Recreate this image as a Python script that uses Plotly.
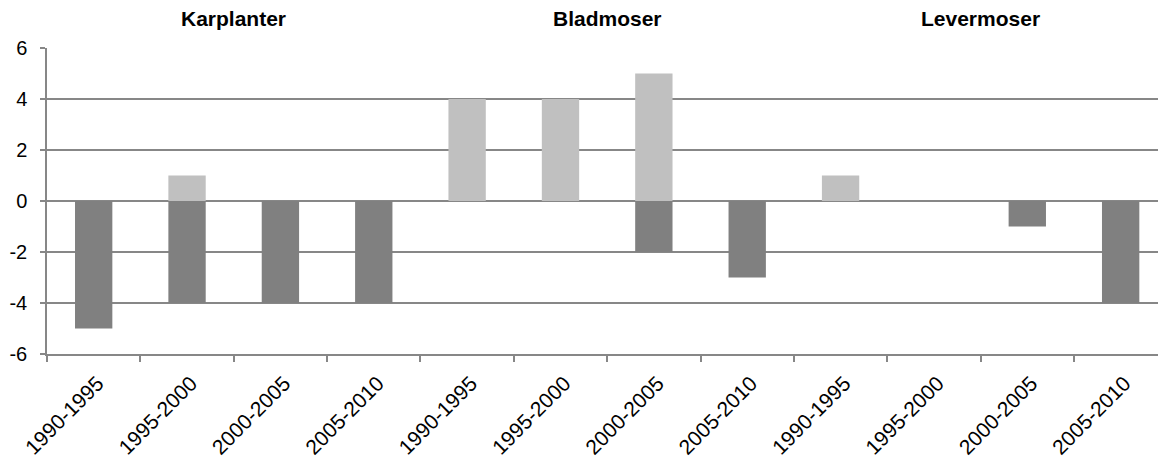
import plotly.graph_objects as go

# Periods repeated for each plant group
periods = ['1990-1995', '1995-2000', '2000-2005', '2005-2010']
groups = ['Karplanter', 'Bladmoser', 'Levermoser']

# gains (light) and losses (dark) per period, group by group
gains = [0, 1, 0, 0, 4, 4, 5, 0, 1, 0, 0, 0]
losses = [-5, -4, -4, -4, 0, 0, -2, -3, 0, 0, -1, -4]

y_ticks = [-6, -4, -2, 0, 2, 4, 6]

n = len(gains)
x_idx = list(range(n))
tick_text = periods * len(groups)

fig = go.Figure()
fig.add_trace(go.Bar(x=x_idx, y=gains, name='Gain', marker_color='#C0C0C0',
                     marker_line_width=0, width=0.4))
fig.add_trace(go.Bar(x=x_idx, y=losses, name='Loss', marker_color='#808080',
                     marker_line_width=0, width=0.4))

# group titles over each block of 4 bars
for i, g in enumerate(groups):
    fig.add_annotation(x=i * 4 + 1.5, xref='x', y=1.095, yref='paper',
                       text='<b>%s</b>' % g, showarrow=False, yanchor='middle',
                       font=dict(size=21, color='black'))

fig.update_layout(
    barmode='relative',
    width=1158, height=465,
    margin=dict(l=47, r=0, t=48, b=111, autoexpand=False),
    plot_bgcolor='white', paper_bgcolor='white',
    showlegend=False,
    font=dict(family='Liberation Sans, Arial, sans-serif', size=20, color='black'),
)
fig.update_xaxes(
    type='category', tickmode='array', tickvals=x_idx, ticktext=tick_text,
    tickangle=-45, range=[-0.5, 11.4], showgrid=False, showline=True,
    linecolor='#878787', linewidth=1.5, ticks='outside', tickson='boundaries',
    ticklen=6, tickcolor='#878787', tickwidth=1.5, tickfont=dict(size=21),
    ticklabelshift=4, ticklabelstandoff=7, automargin=False,
)
fig.update_yaxes(
    range=[-6, 6], tickmode='array', tickvals=y_ticks,
    ticktext=[str(v) for v in y_ticks],
    showgrid=True, gridcolor='#878787', gridwidth=1.5,
    zeroline=False, showline=True, linecolor='#878787', linewidth=1.5,
    ticks='outside', ticklen=5, tickcolor='#878787', tickwidth=1.5,
    tickfont=dict(size=20), ticklabelstandoff=9, automargin=False,
)

fig.write_html('out.html', config={'displayModeBar': False},
               post_script="document.body.style.margin='0';")
